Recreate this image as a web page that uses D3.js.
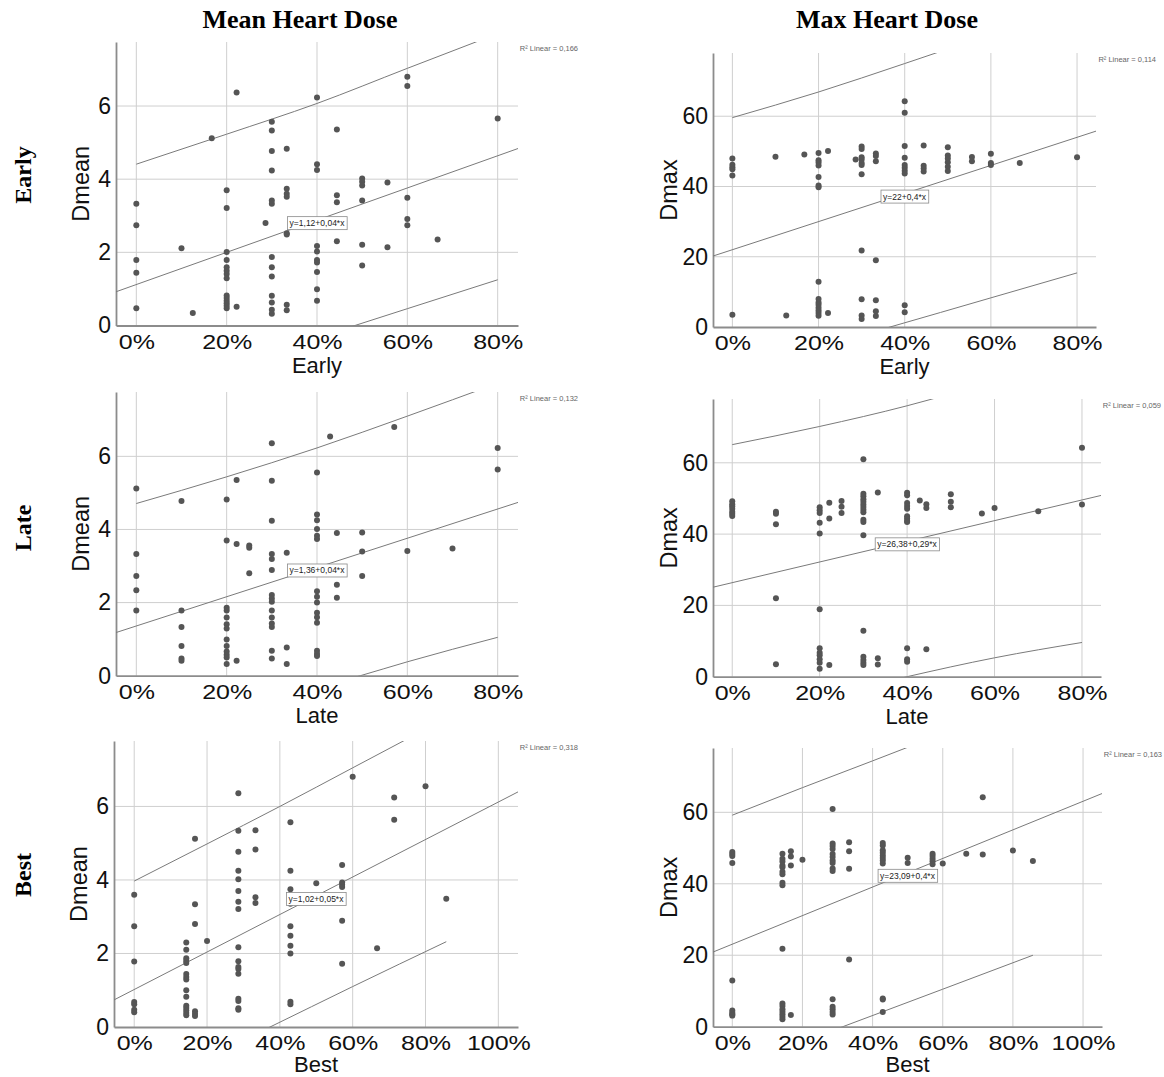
<!DOCTYPE html>
<html lang="en">
<head>
<meta charset="UTF-8">
<title>Heart dose vs. percentage</title>
<script src="https://d3js.org/d3.v7.min.js"></script>
<style>
  body { margin: 0; background: #fff; }
  svg { display: block; background: #fff; }
  .grid line { stroke: #cfcfcf; stroke-width: 1; }
  .axis path { stroke: #8c8c8c; stroke-width: 1.8; }
  .axis text { fill: #111; font-family: "Liberation Sans", Arial, sans-serif; }
  .xaxis text { font-size: 20px; }
  .yaxis text { font-size: 23px; }
  .atitle { font-family: "Liberation Sans", Arial, sans-serif; fill: #111; }
  .dot { fill: #555; }
  .fitline { fill: none; stroke: #7a7a7a; stroke-width: 1; }
  .r2 { font-family: "Liberation Sans", Arial, sans-serif; font-size: 7.5px; fill: #666; }
  .eq text { font-family: "Liberation Sans", Arial, sans-serif; font-size: 8.5px; fill: #222; }
  .eq rect { fill: #fff; stroke: #8a8a8a; stroke-width: 0.8; }
  .bigtitle { font-family: "Liberation Serif", "Times New Roman", serif; font-weight: bold; fill: #000; }
</style>
</head>
<body>
<svg width="1164" height="1077"></svg>
<script>
// ---- column / row headings ----
const colTitles = ["Mean Heart Dose", "Max Heart Dose"];
const rowTitles = ["Early", "Late", "Best"];

// ---- tick values ----
const pctTicks80 = [0, 20, 40, 60, 80];
const pctTicks100 = [0, 20, 40, 60, 80, 100];
const meanTicks = [0, 2, 4, 6];
const maxTicks = [0, 20, 40, 60];

// ---- scatter points [percent, dose] ----
const earlyDmean = [
  [0,3.33],[0,2.74],[0,1.79],[0,1.44],[0,0.47],
  [10,2.11],[12.5,0.34],[16.7,5.12],
  [20,3.70],[20,3.21],[20,2.01],[20,1.79],[20,1.59],[20,1.50],[20,1.41],[20,1.29],[20,0.82],[20,0.75],[20,0.68],[20,0.61],[20,0.54],[20,0.47],
  [22.2,6.37],[22.2,0.51],[28.6,2.80],
  [30,5.57],[30,5.33],[30,4.77],[30,4.24],[30,3.42],[30,3.33],[30,1.87],[30,1.59],[30,1.34],[30,0.81],[30,0.63],[30,0.43],[30,0.32],
  [33.3,4.83],[33.3,3.74],[33.3,3.60],[33.3,3.52],[33.3,2.52],[33.3,2.49],[33.3,0.57],[33.3,0.42],
  [40,6.23],[40,4.41],[40,4.25],[40,2.17],[40,2.02],[40,1.79],[40,1.72],[40,1.46],[40,0.99],[40,0.68],
  [44.4,5.36],[44.4,3.56],[44.4,3.37],[44.4,2.30],
  [50,4.02],[50,3.93],[50,3.83],[50,3.42],[50,2.21],[50,1.64],
  [55.6,3.91],[55.6,2.14],
  [60,6.80],[60,6.55],[60,3.49],[60,2.91],[60,2.74],
  [66.7,2.35],[80,5.66]
];
const earlyDmax = [
  [0,48.0],[0,46.2],[0,45.5],[0,44.9],[0,43.1],[0,3.5],
  [10,48.5],[12.5,3.3],[16.7,49.1],
  [20,49.5],[20,47.5],[20,46.8],[20,46.0],[20,42.7],[20,40.3],[20,39.8],[20,12.9],[20,8.0],[20,7.0],[20,6.3],[20,5.5],[20,4.7],[20,4.0],[20,3.2],
  [22.2,50.1],[22.2,4.0],[28.6,47.7],
  [30,51.4],[30,50.7],[30,48.3],[30,47.7],[30,46.7],[30,46.1],[30,43.5],[30,21.8],[30,7.9],[30,3.3],[30,2.3],
  [33.3,49.4],[33.3,48.7],[33.3,47.2],[33.3,19.0],[33.3,7.6],[33.3,4.5],[33.3,3.1],
  [40,64.3],[40,61.0],[40,51.5],[40,48.2],[40,46.1],[40,45.3],[40,44.5],[40,43.7],[40,6.2],[40,4.2],
  [44.4,51.7],[44.4,45.9],[44.4,45.1],[44.4,44.3],
  [50,51.2],[50,48.8],[50,48.0],[50,46.9],[50,45.6],[50,44.4],
  [55.6,48.4],[55.6,47.2],
  [60,49.3],[60,46.7],[60,46.1],
  [66.7,46.7],[80,48.3]
];
const lateDmean = [
  [0,5.12],[0,3.33],[0,2.73],[0,2.34],[0,1.78],
  [10,4.78],[10,1.78],[10,1.33],[10,0.81],[10,0.47],[10,0.41],
  [20,4.82],[20,3.70],[20,1.86],[20,1.78],[20,1.59],[20,1.41],[20,1.29],[20,0.99],[20,0.81],[20,0.66],[20,0.57],[20,0.50],[20,0.32],
  [22.2,5.35],[22.2,3.60],[22.2,0.41],
  [25,3.56],[25,3.50],[25,2.80],
  [30,6.36],[30,5.33],[30,4.24],[30,3.33],[30,3.19],[30,2.89],[30,2.21],[30,2.11],[30,2.02],[30,1.78],[30,1.59],[30,1.43],[30,1.33],[30,0.68],[30,0.47],
  [33.3,3.36],[33.3,0.77],[33.3,0.32],
  [40,5.56],[40,4.41],[40,4.25],[40,4.01],[40,3.83],[40,3.74],[40,2.31],[40,2.16],[40,2.00],[40,1.72],[40,1.60],[40,1.45],[40,0.68],[40,0.60],[40,0.54],
  [42.9,6.54],
  [44.4,3.90],[44.4,2.49],[44.4,2.13],
  [50,3.92],[50,3.40],[50,2.73],
  [57.1,6.80],[60,3.41],[70,3.48],
  [80,6.23],[80,5.64]
];
const lateDmax = [
  [0,49.2],[0,48.4],[0,47.8],[0,47.1],[0,46.3],[0,45.7],[0,45.1],
  [10,46.3],[10,45.7],[10,42.8],[10,22.0],[10,3.5],
  [20,47.5],[20,46.7],[20,45.9],[20,43.2],[20,40.2],[20,18.9],[20,8.0],[20,6.7],[20,6.0],[20,4.9],[20,3.9],[20,2.2],
  [22.2,48.8],[22.2,44.4],[22.2,3.3],
  [25,49.3],[25,47.7],[25,45.9],
  [30,61.0],[30,51.3],[30,50.6],[30,49.8],[30,49.1],[30,48.3],[30,47.6],[30,46.8],[30,46.1],[30,44.0],[30,43.4],[30,39.7],[30,12.9],[30,5.6],[30,4.7],[30,3.9],[30,3.3],
  [33.3,51.7],[33.3,5.2],[33.3,3.4],
  [40,51.6],[40,50.9],[40,48.7],[40,47.9],[40,47.1],[40,45.0],[40,44.4],[40,43.7],[40,43.4],[40,8.0],[40,4.9],[40,4.2],
  [42.9,49.4],
  [44.4,48.4],[44.4,47.3],[44.4,7.7],
  [50,51.2],[50,49.1],[50,47.5],
  [57.1,45.8],[60,47.3],[70,46.4],
  [80,64.2],[80,48.3]
];
const bestDmean = [
  [0,3.60],[0,2.74],[0,1.78],[0,0.68],[0,0.62],[0,0.47],[0,0.40],
  [14.3,2.30],[14.3,2.10],[14.3,1.87],[14.3,1.80],[14.3,1.74],[14.3,1.44],[14.3,1.36],[14.3,1.29],[14.3,1.00],[14.3,0.82],[14.3,0.58],[14.3,0.52],[14.3,0.45],[14.3,0.38],[14.3,0.32],
  [16.7,5.12],[16.7,3.34],[16.7,2.80],[16.7,0.43],[16.7,0.36],[16.7,0.30],
  [20,2.34],
  [28.6,6.36],[28.6,5.34],[28.6,4.77],[28.6,4.25],[28.6,4.02],[28.6,3.70],[28.6,3.41],[28.6,3.21],[28.6,2.17],[28.6,1.79],[28.6,1.63],[28.6,1.58],[28.6,1.45],[28.6,0.77],[28.6,0.71],[28.6,0.51],[28.6,0.47],
  [33.3,5.35],[33.3,4.83],[33.3,3.53],[33.3,3.37],
  [42.9,5.57],[42.9,4.25],[42.9,3.75],[42.9,3.58],[42.9,3.46],[42.9,3.35],[42.9,2.74],[42.9,2.48],[42.9,2.21],[42.9,2.00],[42.9,0.69],[42.9,0.62],
  [50,3.91],
  [57.1,4.41],[57.1,3.93],[57.1,3.87],[57.1,3.81],[57.1,2.89],[57.1,1.72],
  [60,6.81],[66.7,2.14],
  [71.4,6.24],[71.4,5.64],
  [80,6.55],[85.7,3.49]
];
const bestDmax = [
  [0,48.9],[0,48.3],[0,47.8],[0,45.8],[0,12.9],[0,4.5],[0,3.9],[0,3.5],[0,3.1],
  [14.3,48.4],[14.3,47.0],[14.3,46.2],[14.3,45.1],[14.3,44.6],[14.3,43.4],[14.3,42.7],[14.3,40.3],[14.3,39.6],[14.3,21.8],[14.3,6.5],[14.3,5.8],[14.3,4.9],[14.3,4.2],[14.3,3.5],[14.3,2.8],[14.3,2.1],
  [16.7,49.1],[16.7,47.6],[16.7,45.1],[16.7,3.3],
  [20,46.7],
  [28.6,60.9],[28.6,51.3],[28.6,50.6],[28.6,49.7],[28.6,48.3],[28.6,47.5],[28.6,46.5],[28.6,45.8],[28.6,44.3],[28.6,43.6],[28.6,7.7],[28.6,5.6],[28.6,4.9],[28.6,4.1],[28.6,3.4],
  [33.3,51.6],[33.3,49.1],[33.3,44.2],[33.3,18.8],
  [42.9,51.4],[42.9,50.7],[42.9,49.4],[42.9,48.7],[42.9,47.9],[42.9,47.2],[42.9,46.5],[42.9,45.7],[42.9,7.9],[42.9,7.6],[42.9,4.1],
  [50,47.3],[50,45.8],
  [57.1,48.4],[57.1,47.8],[57.1,47.0],[57.1,46.3],[57.1,45.5],
  [60,45.7],[66.7,48.4],
  [71.4,64.2],[71.4,48.2],
  [80,49.3],[85.7,46.4]
];

// ---- linear fit [intercept, slope] and 95% interval curves ----
const fitEarlyDmean = [1.12, 0.044];
const fitEarlyDmax  = [22, 0.4];
const fitLateDmean  = [1.36, 0.04];
const fitLateDmax   = [26.38, 0.29];
const fitBestDmean  = [1.02, 0.051];
const fitBestDmax   = [23.09, 0.4];

const upEarlyDmean = [[0,4.41],[20,5.23],[40,6.07],[60,7.03],[80,7.98]];
const loEarlyDmean = [[40,-0.33],[48.4,0],[60,0.46],[80,1.25]];
const upEarlyDmax  = [[0,59.6],[20,66.9],[40,75.0],[60,83.3]];
const loEarlyDmax  = [[30,-2.3],[36.6,0],[60,8.3],[80,15.4]];
const upLateDmean  = [[0,4.71],[20,5.44],[40,6.23],[60,7.10],[80,8.0]];
const loLateDmean  = [[40,-0.33],[49.6,0],[60,0.38],[80,1.05]];
const upLateDmax   = [[0,65.1],[20,70.2],[40,76.0],[60,83.0]];
const loLateDmax   = [[30,-2.9],[40,0],[60,5.3],[80,9.6]];
const upBestDmean  = [[0,3.97],[20,4.98],[40,6.0],[60,7.05],[80,8.1]];
const loBestDmean  = [[30,-0.35],[37.3,0],[60,1.1],[85.7,2.32]];
const upBestDmax   = [[0,59.2],[20,66.9],[40,74.4],[60,82.0]];
const loBestDmax   = [[25,-2.4],[31.5,0],[60,10.5],[85.7,20.0]];

const eqLabels = ["y=1,12+0,04*x", "y=22+0,4*x", "y=1,36+0,04*x", "y=26,38+0,29*x", "y=1,02+0,05*x", "y=23,09+0,4*x"];
const r2Values = ["0,166", "0,114", "0,132", "0,059", "0,318", "0,163"];

// ---- panel table (layout in px) ----
const panels = [
  { pts: earlyDmean, fit: fitEarlyDmean, up: upEarlyDmean, lo: loEarlyDmean, xName: "Early", yName: "Dmean",
    L: 116, R: 518, T: 42, B: 325.5, xDom: [-4.5, 84.5], yDom: [0, 7.75], xt: pctTicks80, yt: meanTicks, ytOff: 35 },
  { pts: earlyDmax, fit: fitEarlyDmax, up: upEarlyDmax, lo: loEarlyDmax, xName: "Early", yName: "Dmax",
    L: 713, R: 1096, T: 53, B: 327, xDom: [-4.5, 84.4], yDom: [0, 78], xt: pctTicks80, yt: maxTicks, ytOff: 44 },
  { pts: lateDmean, fit: fitLateDmean, up: upLateDmean, lo: loLateDmean, xName: "Late", yName: "Dmean",
    L: 116, R: 518, T: 392, B: 675.7, xDom: [-4.5, 84.5], yDom: [0, 7.76], xt: pctTicks80, yt: meanTicks, ytOff: 35 },
  { pts: lateDmax, fit: fitLateDmax, up: upLateDmax, lo: loLateDmax, xName: "Late", yName: "Dmax",
    L: 713, R: 1101, T: 399, B: 676.7, xDom: [-4.4, 84.35], yDom: [0, 77.9], xt: pctTicks80, yt: maxTicks, ytOff: 44 },
  { pts: bestDmean, fit: fitBestDmean, up: upBestDmean, lo: loBestDmean, xName: "Best", yName: "Dmean",
    L: 114, R: 518, T: 741, B: 1027, xDom: [-5.55, 105.4], yDom: [0, 7.78], xt: pctTicks100, yt: meanTicks, ytOff: 35 },
  { pts: bestDmax, fit: fitBestDmax, up: upBestDmax, lo: loBestDmax, xName: "Best", yName: "Dmax",
    L: 713, R: 1102, T: 748, B: 1026.7, xDom: [-5.5, 105.4], yDom: [0, 78], xt: pctTicks100, yt: maxTicks, ytOff: 44 }
];

const svg = d3.select("svg");
const defs = svg.append("defs");
const H = 1077;

// headings
svg.selectAll(".coltitle")
  .data(colTitles)
  .enter()
  .append("text")
  .attr("class", "bigtitle")
  .attr("x", (d, i) => i === 0 ? 300 : 887)
  .attr("y", 28)
  .attr("text-anchor", "middle")
  .style("font-size", "26px")
  .text(d => d);

const rowY = [175, 528, 875];
svg.selectAll(".rowtitle")
  .data(rowTitles)
  .enter()
  .append("text")
  .attr("class", "bigtitle")
  .attr("transform", (d, i) => `translate(23,${rowY[i]}) rotate(-90)`)
  .attr("text-anchor", "middle")
  .attr("dominant-baseline", "central")
  .style("font-size", "24px")
  .text(d => d);

panels.forEach((p, i) => {
  const x = d3.scaleLinear().domain(p.xDom).range([p.L, p.R]);
  const y = d3.scaleLinear().domain(p.yDom).range([p.B, p.T]);
  const g = svg.append("g");

  // clip for the fit lines
  defs.append("clipPath").attr("id", "clip" + i)
    .append("rect")
    .attr("x", p.L).attr("y", p.T)
    .attr("width", p.R - p.L).attr("height", p.B - p.T);

  // grid
  const grid = g.append("g").attr("class", "grid");
  grid.selectAll(".vg").data(p.xt).enter().append("line")
    .attr("x1", d => x(d)).attr("x2", d => x(d))
    .attr("y1", p.T).attr("y2", p.B);
  grid.selectAll(".hg").data(p.yt.filter(d => d > 0)).enter().append("line")
    .attr("x1", p.L).attr("x2", p.R)
    .attr("y1", d => y(d)).attr("y2", d => y(d));

  // axes
  const xa = g.append("g")
    .attr("class", "axis xaxis")
    .attr("transform", `translate(0,${p.B})`)
    .call(d3.axisBottom(x).tickValues(p.xt).tickSize(0).tickSizeOuter(0).tickPadding(9).tickFormat(d => d + "%"));
  xa.selectAll(".tick text").attr("transform", "scale(1.25,1)");

  g.append("g")
    .attr("class", "axis yaxis")
    .attr("transform", `translate(${p.L},0)`)
    .call(d3.axisLeft(y).tickValues(p.yt).tickSize(0).tickSizeOuter(0).tickPadding(5));

  // axis titles (kept inside the page at the bottom row)
  g.append("text")
    .attr("class", "atitle")
    .attr("x", (p.L + p.R) / 2)
    .attr("y", Math.min(p.B + 47, H - 5.5))
    .attr("text-anchor", "middle")
    .style("font-size", "22px")
    .text(p.xName);

  g.append("text")
    .attr("class", "atitle")
    .attr("transform", `translate(${p.L - p.ytOff},${(p.T + p.B) / 2}) rotate(-90)`)
    .attr("text-anchor", "middle")
    .attr("dominant-baseline", "central")
    .style("font-size", "23.5px")
    .text(p.yName);

  // fit line + interval curves
  const lines = g.append("g").attr("clip-path", `url(#clip${i})`);
  lines.append("line")
    .attr("class", "fitline")
    .attr("x1", x(p.xDom[0])).attr("y1", y(p.fit[0] + p.fit[1] * p.xDom[0]))
    .attr("x2", x(p.xDom[1])).attr("y2", y(p.fit[0] + p.fit[1] * p.xDom[1]));

  const curve = d3.line()
    .x(d => x(d[0]))
    .y(d => y(d[1]))
    .curve(d3.curveMonotoneX);
  lines.append("path").attr("class", "fitline").attr("d", curve(p.up));
  lines.append("path").attr("class", "fitline").attr("d", curve(p.lo));

  // points
  g.selectAll(".dot")
    .data(p.pts)
    .enter()
    .append("circle")
    .attr("class", "dot")
    .attr("cx", d => x(d[0]))
    .attr("cy", d => y(d[1]))
    .attr("r", 3);

  // equation label on the fit line, centred in the plot
  const xMid = (p.xDom[0] + p.xDom[1]) / 2;
  const eq = g.append("g")
    .attr("class", "eq")
    .attr("transform", `translate(${x(xMid)},${y(p.fit[0] + p.fit[1] * xMid) + 3})`);
  const rect = eq.append("rect");
  const t = eq.append("text")
    .attr("text-anchor", "middle")
    .attr("dominant-baseline", "central")
    .text(eqLabels[i]);
  const bb = t.node().getBBox();
  rect.attr("x", bb.x - 2).attr("y", -6.5)
    .attr("width", bb.width + 4).attr("height", 13);

  // R² note
  g.append("text")
    .attr("class", "r2")
    .attr("x", p.R + 60)
    .attr("y", p.T + 6)
    .attr("text-anchor", "end")
    .attr("dominant-baseline", "central")
    .text("R\u00B2 Linear = " + r2Values[i]);
});
</script>
</body>
</html>
